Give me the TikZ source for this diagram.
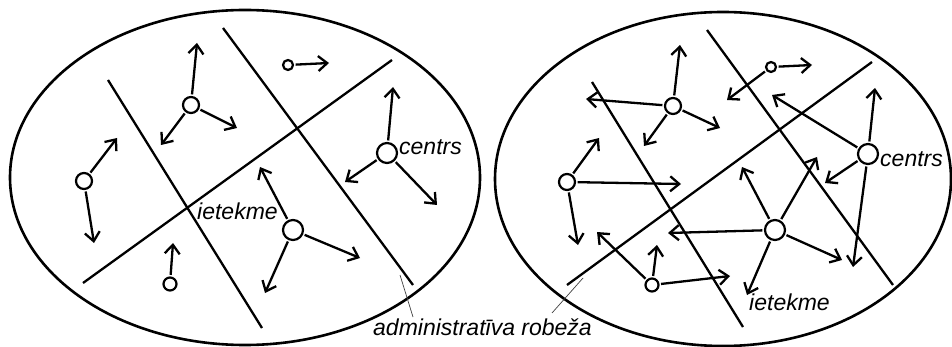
\documentclass[tikz,border=0pt]{standalone}
\usepackage{fontspec}
\setmainfont{Liberation Sans}
\usetikzlibrary{arrows.meta}
\begin{document}
\begin{tikzpicture}[x=1pt,y=-1pt,
  oval/.style={line width=2.6pt},
  border/.style={line width=2.3pt},
  arr/.style={line width=2.3pt,-{Straight Barb[length=9pt,width=15pt,line width=2.3pt]},shorten <=1.5pt},
  bigc/.style={circle,draw,line width=2.2pt,minimum size=20pt,inner sep=0pt},
  midc/.style={circle,draw,line width=2.2pt,minimum size=16pt,inner sep=0pt},
  smlc/.style={circle,draw,line width=2.2pt,minimum size=13pt,inner sep=0pt},
  tinyc/.style={circle,draw,line width=2.2pt,minimum size=10pt,inner sep=0pt},
  lbl/.style={font=\fontsize{23}{25}\selectfont\itshape,inner sep=0pt,anchor=base west},
  leader/.style={line width=0.7pt,black!75}]
\useasboundingbox (0,0) rectangle (952,347);

% ---------- left diagram ----------
\draw[oval] (245,177.5) ellipse [x radius=235pt, y radius=167.5pt];
\coordinate (la1) at (108,80);  \coordinate (la2) at (262,328);
\coordinate (lb1) at (223,28);  \coordinate (lb2) at (413,285);
\coordinate (lc1) at (83,283);  \coordinate (lc2) at (392,60);
\draw[border] (la1) -- (la2);
\draw[border] (lb1) -- (lb2);
\draw[border] (lc1) -- (lc2);

\node[midc]  (L1) at (191,105) {};
\node[tinyc] (L2) at (288,65) {};
\node[bigc]  (L3) at (387,153) {};
\node[midc]  (L4) at (84,181) {};
\node[smlc]  (L5) at (170,284) {};
\node[bigc]  (L6) at (293,230) {};

\coordinate (l1a) at (197,43);  \coordinate (l1b) at (237,128); \coordinate (l1c) at (161,145);
\coordinate (l2a) at (329,63);
\coordinate (l3a) at (393,87);  \coordinate (l3b) at (345,182); \coordinate (l3c) at (437,205);
\coordinate (l4a) at (117,138); \coordinate (l4b) at (94,243);
\coordinate (l5a) at (173,243);
\coordinate (l6a) at (260,167); \coordinate (l6b) at (360,258); \coordinate (l6c) at (265,293);

\draw[arr] (L1) -- (l1a); \draw[arr] (L1) -- (l1b); \draw[arr] (L1) -- (l1c);
\draw[arr] (L2) -- (l2a);
\draw[arr] (L3) -- (l3a); \draw[arr] (L3) -- (l3b); \draw[arr] (L3) -- (l3c);
\draw[arr] (L4) -- (l4a); \draw[arr] (L4) -- (l4b);
\draw[arr] (L5) -- (l5a);
\draw[arr] (L6) -- (l6a); \draw[arr] (L6) -- (l6b); \draw[arr] (L6) -- (l6c);

\node[lbl] (Lcentrs) at (399,155) {centrs};
\node[lbl] (Liet) at (197,220) {ietekme};

% ---------- right diagram ----------
\draw[oval] (723,179) ellipse [x radius=228pt, y radius=167pt];
\coordinate (ra1) at (592,82);  \coordinate (ra2) at (743,327);
\coordinate (rb1) at (707,30);  \coordinate (rb2) at (893,285);
\coordinate (rc1) at (567,285); \coordinate (rc2) at (872,62);
\draw[border] (ra1) -- (ra2);
\draw[border] (rb1) -- (rb2);
\draw[border] (rc1) -- (rc2);

\node[midc]  (R1) at (673,106) {};
\node[tinyc] (R2) at (771,67) {};
\node[bigc]  (R3) at (868,154) {};
\node[midc]  (R4) at (567,182) {};
\node[smlc]  (R5) at (652,285) {};
\node[bigc]  (R6) at (775,230) {};

\coordinate (r1a) at (680,45);  \coordinate (r1b) at (586,99);  \coordinate (r1c) at (720,128); \coordinate (r1d) at (644,146);
\coordinate (r2a) at (812,65);  \coordinate (r2b) at (727,100);
\coordinate (r3a) at (875,88);  \coordinate (r3b) at (772,95);  \coordinate (r3c) at (825,183); \coordinate (r3d) at (853,267);
\coordinate (r4a) at (599,138); \coordinate (r4b) at (681,184); \coordinate (r4c) at (578,245);
\coordinate (r5a) at (657,245); \coordinate (r5b) at (597,232); \coordinate (r5c) at (730,276);
\coordinate (r6a) at (742,167); \coordinate (r6b) at (817,157); \coordinate (r6c) at (668,233); \coordinate (r6d) at (842,260); \coordinate (r6e) at (747,295);

\draw[arr] (R1) -- (r1a); \draw[arr] (R1) -- (r1b); \draw[arr] (R1) -- (r1c); \draw[arr] (R1) -- (r1d);
\draw[arr] (R2) -- (r2a); \draw[arr] (R2) -- (r2b);
\draw[arr] (R3) -- (r3a); \draw[arr] (R3) -- (r3b); \draw[arr] (R3) -- (r3c); \draw[arr] (R3) -- (r3d);
\draw[arr] (R4) -- (r4a); \draw[arr] (R4) -- (r4b); \draw[arr] (R4) -- (r4c);
\draw[arr] (R5) -- (r5a); \draw[arr] (R5) -- (r5b); \draw[arr] (R5) -- (r5c);
\draw[arr] (R6) -- (r6a); \draw[arr] (R6) -- (r6b); \draw[arr] (R6) -- (r6c); \draw[arr] (R6) -- (r6d); \draw[arr] (R6) -- (r6e);

\node[lbl] (Rcentrs) at (880,167) {centrs};
\node[lbl] (Riet) at (749,310) {ietekme};

% ---------- boundary label ----------
\node[lbl] (adm) at (373,335) {administratīva robeža};
\coordinate (ldA) at (400,275);
\coordinate (ldAe) at (413,317);
\coordinate (ldB) at (583,278);
\coordinate (ldBe) at (552,313);
\draw[leader] (ldA) -- (ldAe);
\draw[leader] (ldB) -- (ldBe);
\end{tikzpicture}
\end{document}
